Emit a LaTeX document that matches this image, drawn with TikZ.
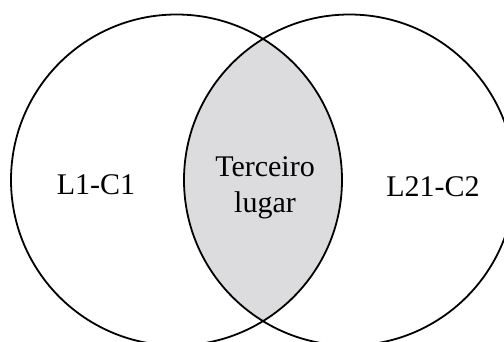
\documentclass[tikz,border=0pt]{standalone}
\usepackage{fontspec}
\setmainfont{Liberation Serif}
\definecolor{lensgray}{HTML}{DCDCDE}
\tikzset{
  ring/.style={draw=black, line width=1.8pt},
  lbl/.style={anchor=base, inner sep=0pt, font=\fontsize{30}{36}\selectfont}
}
\begin{document}
\begin{tikzpicture}[x=1pt,y=1pt]
\useasboundingbox (0,0) rectangle (504,342);
\clip (0,0) rectangle (504,342);
\coordinate (c1) at (176.5,162);
\coordinate (c2) at (349.5,162);
\begin{scope}
  \clip (c1) circle[radius=165.5];
  \fill[lensgray] (c2) circle[radius=165.5];
\end{scope}
\draw[ring] (c1) circle[radius=165.5];
\draw[ring] (c2) circle[radius=165.5];
\node[lbl] (a) at (96,147) {L1-C1};
\node[lbl] (b) at (433,145) {L21-C2};
\node[lbl] (t1) at (265,165) {Terceiro};
\node[lbl] (t2) at (265,129) {lugar};
\end{tikzpicture}
\end{document}
